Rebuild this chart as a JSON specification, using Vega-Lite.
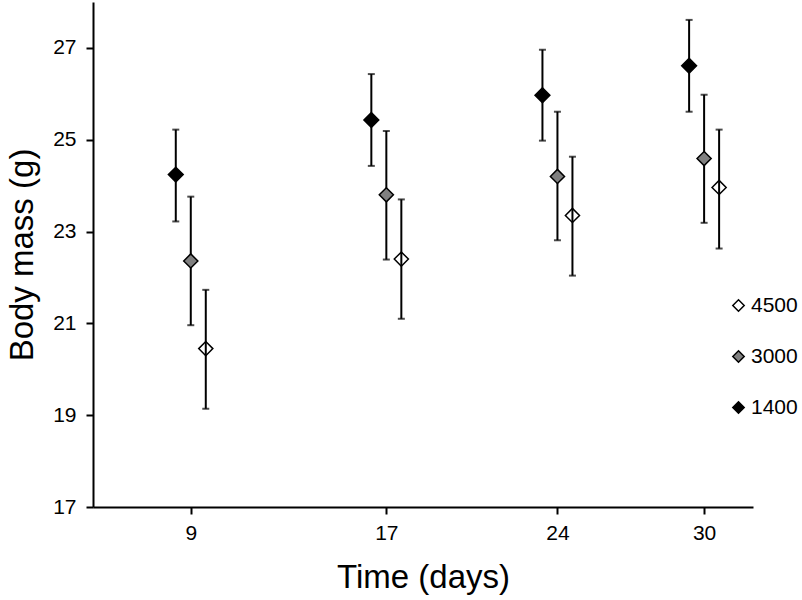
{
  "$schema": "https://vega.github.io/schema/vega-lite/v6.json",
  "width": 660,
  "height": 505,
  "autosize": {"type": "none"},
  "padding": {"left": 93, "top": 2, "right": 49, "bottom": 93},
  "background": "white",
  "config": {
    "view": {"stroke": null},
    "font": "Liberation Sans",
    "axis": {
      "grid": false,
      "domainColor": "black",
      "domainWidth": 2,
      "tickColor": "black",
      "tickWidth": 2,
      "tickSize": 7,
      "labelFont": "Liberation Sans",
      "labelFontSize": 21,
      "labelColor": "black",
      "titleFont": "Liberation Sans",
      "titleFontSize": 33,
      "titleFontWeight": "normal",
      "titleColor": "black"
    }
  },
  "data": {
    "values": [
      {"day": 9, "group": "1400", "mean": 24.24, "lo": 23.22, "hi": 25.22},
      {"day": 9, "group": "3000", "mean": 22.36, "lo": 20.96, "hi": 23.76},
      {"day": 9, "group": "4500", "mean": 20.45, "lo": 19.14, "hi": 21.73},
      {"day": 17, "group": "1400", "mean": 25.43, "lo": 24.43, "hi": 26.43},
      {"day": 17, "group": "3000", "mean": 23.8, "lo": 22.39, "hi": 25.19},
      {"day": 17, "group": "4500", "mean": 22.4, "lo": 21.1, "hi": 23.7},
      {"day": 24, "group": "1400", "mean": 25.97, "lo": 24.98, "hi": 26.96},
      {"day": 24, "group": "3000", "mean": 24.2, "lo": 22.81, "hi": 25.61},
      {"day": 24, "group": "4500", "mean": 23.35, "lo": 22.04, "hi": 24.63},
      {"day": 30, "group": "1400", "mean": 26.61, "lo": 25.61, "hi": 27.61},
      {"day": 30, "group": "3000", "mean": 24.59, "lo": 23.19, "hi": 25.98},
      {"day": 30, "group": "4500", "mean": 23.96, "lo": 22.63, "hi": 25.22}
    ]
  },
  "encoding": {
    "x": {
      "field": "day",
      "type": "quantitative",
      "scale": {"domain": [5, 32], "nice": false, "zero": false},
      "axis": {"values": [9, 17, 24, 30], "title": "Time (days)", "labelPadding": 8, "titlePadding": 18}
    }
  },
  "layer": [
    {
      "transform": [{"filter": "datum.group === '1400'"}],
      "layer": [
        {
          "mark": {"type": "rule", "color": "black", "strokeWidth": 2, "xOffset": -15},
          "encoding": {
            "y": {
              "field": "lo",
              "type": "quantitative",
              "scale": {"domain": [17, 28], "nice": false, "zero": false},
              "axis": {"values": [17, 19, 21, 23, 25, 27], "title": "Body mass (g)", "labelPadding": 10, "titlePadding": 13}
            },
            "y2": {"field": "hi"}
          }
        },
        {
          "mark": {"type": "tick", "orient": "horizontal", "color": "black", "size": 7, "thickness": 2, "xOffset": -15},
          "encoding": {"y": {"field": "lo", "type": "quantitative"}}
        },
        {
          "mark": {"type": "tick", "orient": "horizontal", "color": "black", "size": 7, "thickness": 2, "xOffset": -15},
          "encoding": {"y": {"field": "hi", "type": "quantitative"}}
        },
        {
          "mark": {"type": "point", "shape": "diamond", "filled": true, "size": 220, "stroke": "black", "strokeWidth": 1.5, "opacity": 1, "xOffset": -15},
          "encoding": {
            "y": {"field": "mean", "type": "quantitative"},
            "fill": {"field": "group", "type": "nominal", "scale": {"domain": ["4500", "3000", "1400"], "range": ["white", "#808080", "black"]}}
          }
        }
      ]
    },
    {
      "transform": [{"filter": "datum.group === '3000'"}],
      "layer": [
        {
          "mark": {"type": "rule", "color": "black", "strokeWidth": 2, "xOffset": 0},
          "encoding": {"y": {"field": "lo", "type": "quantitative"}, "y2": {"field": "hi"}}
        },
        {
          "mark": {"type": "tick", "orient": "horizontal", "color": "black", "size": 7, "thickness": 2, "xOffset": 0},
          "encoding": {"y": {"field": "lo", "type": "quantitative"}}
        },
        {
          "mark": {"type": "tick", "orient": "horizontal", "color": "black", "size": 7, "thickness": 2, "xOffset": 0},
          "encoding": {"y": {"field": "hi", "type": "quantitative"}}
        },
        {
          "mark": {"type": "point", "shape": "diamond", "filled": true, "size": 200, "stroke": "black", "strokeWidth": 1.5, "opacity": 1, "xOffset": 0},
          "encoding": {
            "y": {"field": "mean", "type": "quantitative"},
            "fill": {"field": "group", "type": "nominal", "scale": {"domain": ["4500", "3000", "1400"], "range": ["white", "#808080", "black"]}}
          }
        }
      ]
    },
    {
      "transform": [{"filter": "datum.group === '4500'"}],
      "layer": [
        {
          "mark": {"type": "point", "shape": "diamond", "filled": true, "size": 200, "stroke": "black", "strokeWidth": 1.5, "opacity": 1, "xOffset": 15},
          "encoding": {
            "y": {"field": "mean", "type": "quantitative"},
            "fill": {
              "field": "group",
              "type": "nominal",
              "scale": {"domain": ["4500", "3000", "1400"], "range": ["white", "#808080", "black"]},
              "legend": {
                "orient": "none",
                "legendX": 635,
                "legendY": 293,
                "title": null,
                "symbolType": "diamond",
                "symbolSize": 130,
                "symbolStrokeColor": "black",
                "symbolStrokeWidth": 1.5,
                "labelFontSize": 21,
                "labelFont": "Liberation Sans",
                "labelColor": "black",
                "labelOffset": 2,
                "rowPadding": 29
              }
            }
          }
        },
        {
          "mark": {"type": "rule", "color": "black", "strokeWidth": 2, "xOffset": 15},
          "encoding": {"y": {"field": "lo", "type": "quantitative"}, "y2": {"field": "hi"}}
        },
        {
          "mark": {"type": "tick", "orient": "horizontal", "color": "black", "size": 7, "thickness": 2, "xOffset": 15},
          "encoding": {"y": {"field": "lo", "type": "quantitative"}}
        },
        {
          "mark": {"type": "tick", "orient": "horizontal", "color": "black", "size": 7, "thickness": 2, "xOffset": 15},
          "encoding": {"y": {"field": "hi", "type": "quantitative"}}
        }
      ]
    }
  ]
}
